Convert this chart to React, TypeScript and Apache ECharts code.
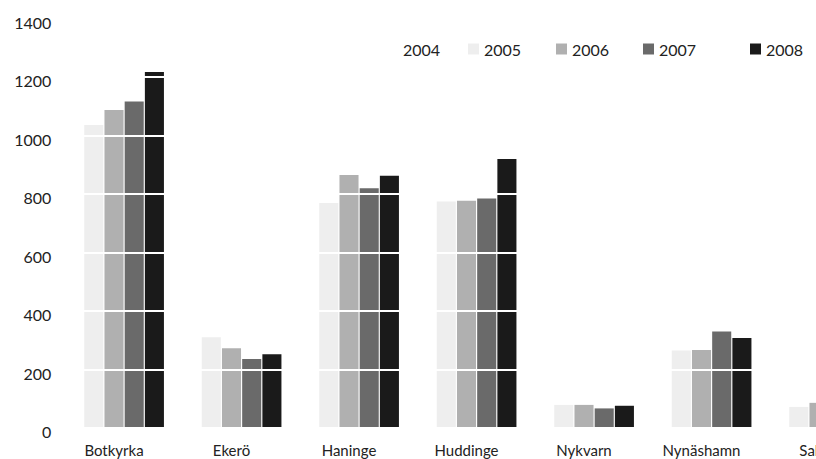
import React, { useEffect, useRef } from "react";
import * as echarts from "echarts";

const categories = ["Botkyrka", "Ekerö", "Haninge", "Huddinge", "Nykvarn", "Nynäshamn", "Salem"];
const years = ["2004", "2005", "2006", "2007", "2008"];
const v2004 = [1000, 300, 760, 770, 70, 260, 70];
const v2005 = [1036, 310, 769, 774, 79, 265, 72];
const v2006 = [1087, 273, 865, 777, 79, 267, 86];
const v2007 = [1116, 236, 820, 785, 67, 330, 95];
const v2008 = [1217, 252, 862, 920, 76, 308, 100];
const yTicks = [0, 200, 400, 600, 800, 1000, 1200, 1400];

const seriesValues = [v2004, v2005, v2006, v2007, v2008];
const colors = ["#ffffff", "#eeeeee", "#b0b0b0", "#6a6a6a", "#1a1a1a"];
const legendLefts = [387, 468, 556, 643, 750];
const FONT = "Lato, 'Noto Sans', sans-serif";

export default function App() {
  const ref = useRef<HTMLDivElement>(null);
  useEffect(() => {
    if (!ref.current) return;
    const chart = echarts.init(ref.current, null, { renderer: "svg" });
    chart.setOption({
      animation: false,
      backgroundColor: "#ffffff",
      textStyle: { fontFamily: FONT, color: "#222" },
      legend: years.map((y, i) => ({
        left: legendLefts[i],
        top: 41,
        padding: 0,
        itemWidth: 11,
        itemHeight: 11,
        icon: "rect",
        textStyle: { fontSize: 16, color: "#222", fontFamily: FONT },
        data: [y],
      })),
      grid: {
        left: 55.25,
        right: -61.75,
        top: 18.5,
        bottom: 31,
        containLabel: false,
        outerBoundsMode: "none",
      },
      xAxis: {
        type: "category",
        data: categories,
        axisLine: { show: false },
        axisTick: { show: false },
        axisLabel: { fontSize: 15, color: "#222", margin: 14, fontFamily: FONT, interval: 0 },
      },
      yAxis: {
        type: "value",
        min: yTicks[0],
        max: yTicks[yTicks.length - 1],
        interval: 200,
        z: 10,
        axisLine: { show: false },
        axisTick: { show: false },
        axisLabel: {
          fontSize: 16,
          color: "#222",
          margin: 4,
          fontFamily: FONT,
          verticalAlign: "top",
          lineHeight: 7,
          formatter: (v: number) => String(v),
        },
        splitLine: { show: true, lineStyle: { color: "#ffffff", width: 2 } },
      },
      series: years.map((y, i) => ({
        name: y,
        type: "bar",
        data: seriesValues[i],
        barGap: "6%",
        barCategoryGap: "15%",
        itemStyle: { color: colors[i] },
      })),
    });
    return () => chart.dispose();
  }, []);
  return (
    <div
      ref={ref}
      style={{ position: "fixed", left: 0, top: 0, width: 816, height: 459, background: "#fff" }}
    />
  );
}
